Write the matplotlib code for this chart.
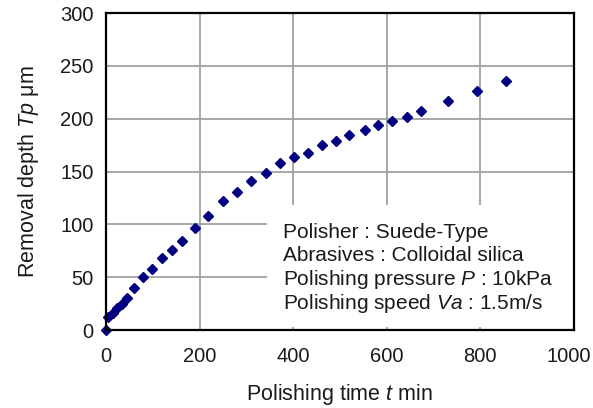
import matplotlib
matplotlib.use("Agg")
import matplotlib.pyplot as plt
from matplotlib.patches import Rectangle
from matplotlib.transforms import ScaledTranslation

plt.rcParams["font.family"] = ["Liberation Sans", "DejaVu Sans"]
plt.rcParams["mathtext.fontset"] = "custom"
plt.rcParams["mathtext.rm"] = "Liberation Sans"
plt.rcParams["mathtext.it"] = "Liberation Sans:italic"

# polishing time [min] and removal depth [um]
time_min = [0, 5, 14, 23, 34, 44, 60, 78, 98, 120, 140, 162, 190, 218, 251,
            280, 310, 342, 371, 401, 431, 462, 491, 520, 554, 582, 611, 644,
            674, 731, 793, 855]
depth_um = [0, 12, 16, 21, 25, 30, 40, 50, 58, 68, 76, 84, 97, 108, 122,
            131, 141, 149, 158, 164, 168, 175, 179, 185, 189, 194, 198, 202,
            207, 217, 226, 236]

x_ticks = [0, 200, 400, 600, 800, 1000]
y_ticks = [0, 50, 100, 150, 200, 250, 300]

conditions = [
    "Polisher : Suede-Type",
    "Abrasives : Colloidal silica",
    "Polishing pressure $P$ : 10kPa",
    "Polishing speed $Va$ : 1.5m/s",
]

fig = plt.figure(figsize=(5.93, 4.08), dpi=100)
ax = fig.add_axes([0.1788, 0.191, 0.789, 0.777])

ax.plot(time_min, depth_um, linestyle="none", marker="D", markersize=5.5,
        color="#000080", clip_on=False, zorder=2)

ax.set_xlim(0, 1000)
ax.set_ylim(0, 300)
ax.set_xticks(x_ticks)
ax.set_yticks(y_ticks)
ax.tick_params(length=0, labelsize=14.5, colors="#1a1a1a")
ax.tick_params(axis="x", pad=12)
ax.tick_params(axis="y", pad=9)
ax.set_axisbelow(True)
ax.grid(True, color="#a0a0a0", linewidth=1.3)
for sp in ax.spines.values():
    sp.set_linewidth(1.6)
    sp.set_color("black")

# keep "1000" inside the figure edge
last = ax.get_xticklabels()[-1]
last.set_transform(last.get_transform() +
                   ScaledTranslation(-4 / 72, 0, fig.dpi_scale_trans))

ax.set_xlabel("Polishing time $t$ min", fontsize=15.5, labelpad=12, color="#1a1a1a")
ax.set_ylabel("Removal depth $Tp$ \u03bcm", fontsize=15.5, labelpad=14, color="#1a1a1a")

# white box behind the conditions text
ax.add_patch(Rectangle((344, 3), 653, 115, facecolor="white",
                       edgecolor="none", zorder=1.5))
for i, line in enumerate(conditions):
    ax.text(0.378, 0.309 - i * 0.075, line, transform=ax.transAxes,
            fontsize=15, va="center", ha="left", color="#1a1a1a", zorder=3)

fig.savefig("out.png", dpi=100, facecolor="white")
